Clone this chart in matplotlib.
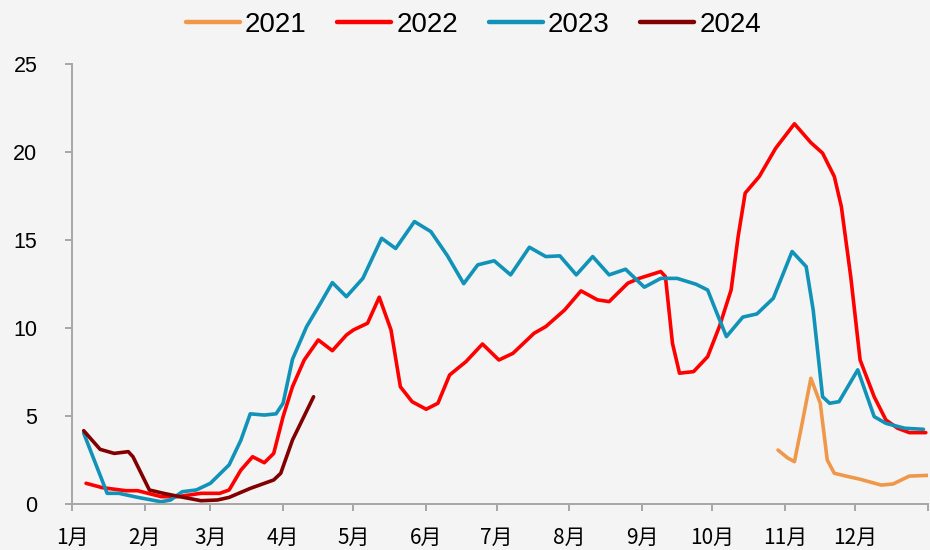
"""
Weekly series by year, 2021-2024 (day of year on x)
"""

import matplotlib
matplotlib.use("Agg")
import matplotlib.pyplot as plt

# Month starts (day of year) and labels
month_starts = [0, 31, 59, 90, 120, 151, 181, 212, 243, 273, 304, 334, 365]
month_labels = ["1月", "2月", "3月", "4月", "5月", "6月", "7月", "8月",
                "9月", "10月", "11月", "12月", ""]

# 2021 (only from November)
day_2021 = [301, 305, 308, 311, 315, 319, 322, 325, 330, 336, 345, 350, 357, 365]
val_2021 = [3.04, 2.60, 2.38, 4.37, 7.12, 5.70, 2.47, 1.72, 1.56, 1.38, 1.05, 1.11,
            1.56, 1.60]

# 2022
day_2022 = [6, 13, 23, 28, 38, 45, 55, 63, 67, 72, 77, 82, 86, 90, 94, 99, 105, 111,
            117, 120, 126, 131, 136, 140, 145, 151, 156, 161, 168, 175, 182, 188,
            197, 202, 210, 217, 224, 229, 237, 242, 251, 253, 256, 259, 265, 271,
            276, 281, 284, 287, 293, 300, 308, 315, 320, 325, 328, 332, 336, 342,
            347, 352, 357, 364]
val_2022 = [1.15, 0.90, 0.73, 0.73, 0.39, 0.39, 0.58, 0.58, 0.77, 1.90, 2.66, 2.32,
            2.85, 4.94, 6.64, 8.16, 9.30, 8.69, 9.58, 9.87, 10.25, 11.73, 9.87, 6.64,
            5.79, 5.36, 5.70, 7.31, 8.07, 9.07, 8.16, 8.54, 9.68, 10.06, 11.00, 12.09,
            11.58, 11.48, 12.53, 12.81, 13.19, 12.90, 9.11, 7.41, 7.50, 8.35, 10.06,
            12.14, 15.18, 17.65, 18.59, 20.20, 21.59, 20.52, 19.92, 18.59, 16.88,
            12.90, 8.16, 6.07, 4.75, 4.28, 4.03, 4.03]

# 2023
day_2023 = [5, 15, 20, 28, 38, 42, 47, 53, 59, 67, 72, 76, 82, 87, 90, 94, 100, 106,
            111, 117, 124, 132, 138, 146, 153, 160, 167, 173, 180, 187, 195, 202,
            208, 215, 222, 229, 236, 244, 251, 258, 266, 271, 275, 279, 286, 292,
            299, 307, 313, 316, 320, 323, 327, 335, 342, 347, 355, 363]
val_2023 = [4.00, 0.58, 0.58, 0.35, 0.10, 0.20, 0.67, 0.77, 1.15, 2.20, 3.60, 5.10,
            5.03, 5.10, 5.70, 8.20, 10.05, 11.40, 12.56, 11.76, 12.80, 15.08, 14.50,
            16.03, 15.46, 14.10, 12.50, 13.57, 13.80, 13.00, 14.57, 14.04, 14.08,
            13.00, 14.04, 13.00, 13.32, 12.30, 12.80, 12.80, 12.47, 12.14, 10.80,
            9.49, 10.60, 10.78, 11.67, 14.33, 13.47, 11.00, 6.07, 5.70, 5.79, 7.60,
            4.94, 4.56, 4.28, 4.22]

# 2024 (to date)
day_2024 = [5, 12, 18, 24, 26, 33, 39, 46, 55, 62, 67, 76, 86, 89, 94, 103]
val_2024 = [4.14, 3.08, 2.85, 2.95, 2.66, 0.77, 0.58, 0.39, 0.16, 0.20, 0.35, 0.86,
            1.34, 1.72, 3.61, 6.07]

series = [
    ("2021", day_2021, val_2021, "#F0984A"),
    ("2022", day_2022, val_2022, "#FF0000"),
    ("2023", day_2023, val_2023, "#1192B8"),
    ("2024", day_2024, val_2024, "#820000"),
]

bg = "#F4F4F4"
axis_gray = "#A6A6A6"

fig = plt.figure(figsize=(9.3, 5.5), dpi=100, facecolor=bg)
ax = fig.add_axes([0.0774, 0.0845, 0.9206, 0.7995], facecolor=bg)

for name, x, y, color in series:
    ax.plot(x, y, color=color, lw=2.6, label=name,
            solid_joinstyle="round", solid_capstyle="round")

ax.set_xlim(0, 365)
ax.set_ylim(0, 25)

# Axes styling
for side in ["top", "right"]:
    ax.spines[side].set_visible(False)
for side in ["left", "bottom"]:
    ax.spines[side].set_color(axis_gray)
    ax.spines[side].set_linewidth(1.4)

ax.set_xticks(month_starts)
ax.set_xticklabels(month_labels, family=["Noto Sans CJK SC", "DejaVu Sans"],
                   fontsize=15)
ax.set_yticks([0, 5, 10, 15, 20, 25])
ax.set_yticklabels(["0", "5", "10", "15", "20", "25"],
                   family=["Liberation Sans", "DejaVu Sans"], fontsize=15.5)
ax.tick_params(axis="x", direction="out", length=5, width=1.4, color=axis_gray,
               pad=12)
ax.tick_params(axis="y", direction="out", length=5, width=1.4, color=axis_gray,
               pad=20)

leg = fig.legend(loc="center", bbox_to_anchor=(0.509, 0.955), ncol=4,
                 frameon=False, handlelength=1.95, handletextpad=0.18,
                 columnspacing=1.1,
                 prop={"family": ["Liberation Sans", "DejaVu Sans"], "size": 20})
for line in leg.get_lines():
    line.set_linewidth(3.2)

fig.savefig("out.png", dpi=100, facecolor=bg)
